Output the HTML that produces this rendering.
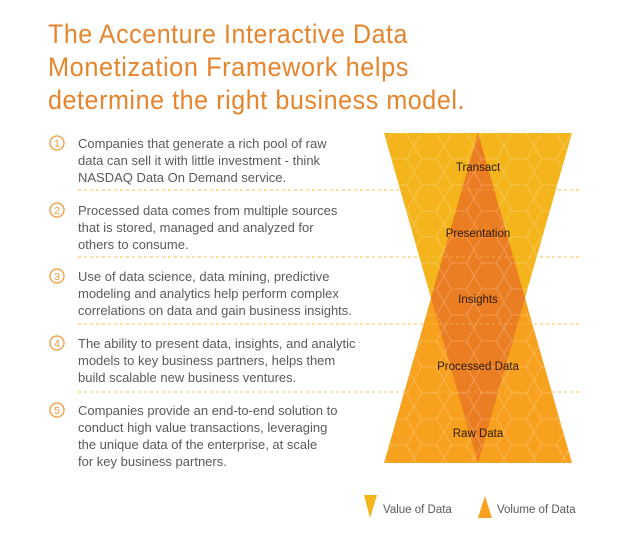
<!DOCTYPE html>
<html><head><meta charset="utf-8"><style>
html,body{margin:0;padding:0;background:#fff;}
svg{display:block;}
text{font-family:"Liberation Sans",sans-serif;}
</style></head><body>
<svg width="640" height="538" viewBox="0 0 640 538" xmlns="http://www.w3.org/2000/svg">
<defs>
<pattern id="hex" width="30" height="26" patternUnits="userSpaceOnUse" x="384" y="133">
<path d="M0 13 L7.5 0 L22.5 0 L30 13 L22.5 26 L7.5 26 Z" fill="none" stroke="#fff" stroke-opacity="0.22" stroke-width="1"/>
</pattern>
</defs>
<g fill="#E5852D" font-size="27" letter-spacing="0.6">
<text x="48" y="43" textLength="360" lengthAdjust="spacingAndGlyphs">The Accenture Interactive Data</text>
<text x="48" y="76" textLength="361" lengthAdjust="spacingAndGlyphs">Monetization Framework helps</text>
<text x="48" y="109" textLength="417" lengthAdjust="spacingAndGlyphs">determine the right business model.</text>
</g>
<g stroke="#F5C04A" stroke-width="1" stroke-dasharray="3,3">
<line x1="78" y1="190" x2="580" y2="190"/>
<line x1="78" y1="257" x2="580" y2="257"/>
<line x1="78" y1="324" x2="580" y2="324"/>
<line x1="78" y1="392" x2="580" y2="392"/>
</g>
<polygon points="384,133 572,133 478,463" fill="#F4B51C"/>
<polygon points="384,463 572,463 478,133" fill="#F7A11E"/>
<polygon points="478,133 525,298 478,463 431,298" fill="#EB7D22"/>
<rect x="384" y="133" width="188" height="330" fill="url(#hex)"/>
<g stroke="#F5C04A" stroke-width="1" stroke-dasharray="3,3" opacity="0.6">
<line x1="384" y1="190" x2="572" y2="190"/>
<line x1="384" y1="257" x2="572" y2="257"/>
<line x1="384" y1="324" x2="572" y2="324"/>
<line x1="384" y1="392" x2="572" y2="392"/>
</g>
<g fill="#2a1a08" font-size="11.5" text-anchor="middle">
<text x="478" y="171">Transact</text>
<text x="478" y="237">Presentation</text>
<text x="478" y="303">Insights</text>
<text x="478" y="370">Processed Data</text>
<text x="478" y="437">Raw Data</text>
</g>
<g fill="none" stroke="#EE9A3A" stroke-width="1.3">
<circle cx="57" cy="143" r="7"/><circle cx="57" cy="210" r="7"/><circle cx="57" cy="276" r="7"/><circle cx="57" cy="343" r="7"/><circle cx="57" cy="410" r="7"/>
</g>
<g fill="#EE9A3A" font-size="10.5" text-anchor="middle">
<text x="57" y="147">1</text><text x="57" y="214">2</text><text x="57" y="280">3</text><text x="57" y="347">4</text><text x="57" y="414">5</text>
</g>
<g fill="#5a5a5a" font-size="13">
<text x="78" y="148">Companies that generate a rich pool of raw</text>
<text x="78" y="165">data can sell it with little investment - think</text>
<text x="78" y="182">NASDAQ Data On Demand service.</text>
<text x="78" y="215">Processed data comes from multiple sources</text>
<text x="78" y="232">that is stored, managed and analyzed for</text>
<text x="78" y="249">others to consume.</text>
<text x="78" y="281">Use of data science, data mining, predictive</text>
<text x="78" y="298">modeling and analytics help perform complex</text>
<text x="78" y="315">correlations on data and gain business insights.</text>
<text x="78" y="348">The ability to present data, insights, and analytic</text>
<text x="78" y="365">models to key business partners, helps them</text>
<text x="78" y="382">build scalable new business ventures.</text>
<text x="78" y="415">Companies provide an end-to-end solution to</text>
<text x="78" y="432">conduct high value transactions, leveraging</text>
<text x="78" y="449">the unique data of the enterprise, at scale</text>
<text x="78" y="466">for key business partners.</text>
</g>
<polygon points="364,495 377,495 370,518" fill="#F4B51C"/>
<text x="383" y="513" font-size="11.5" fill="#5a5a5a">Value of Data</text>
<polygon points="478,518 492,518 485,496" fill="#F7A11E"/>
<text x="497" y="513" font-size="11.5" fill="#5a5a5a">Volume of Data</text>
</svg>
</body></html>
